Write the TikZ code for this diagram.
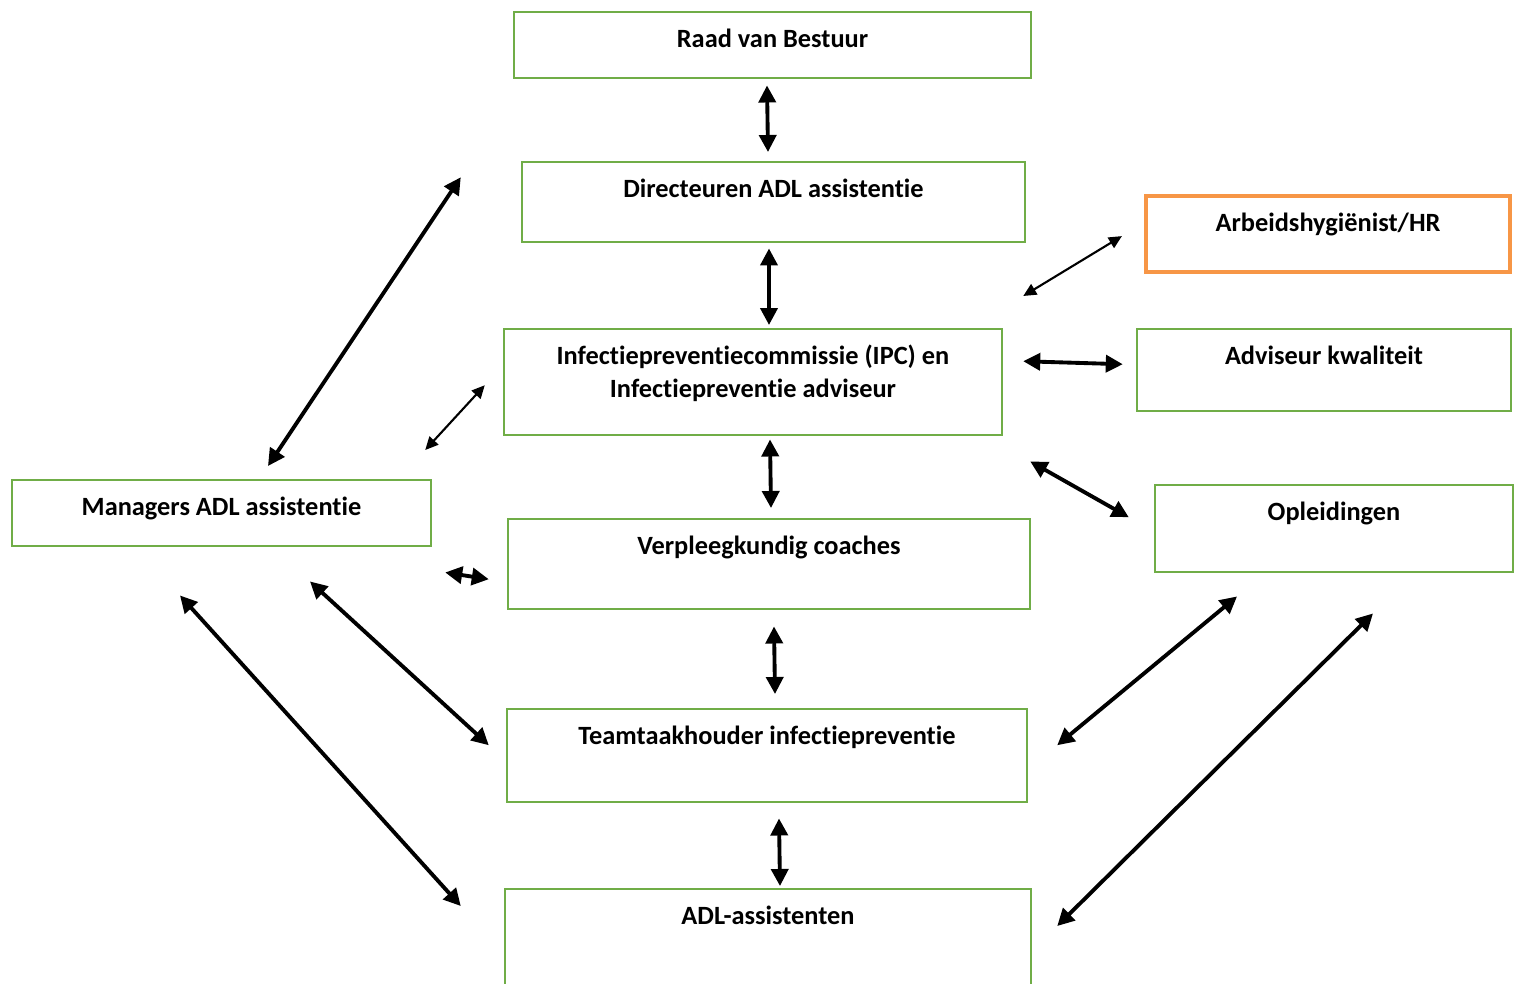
\documentclass[tikz,border=0pt]{standalone}
\usepackage{fontspec}
\setmainfont{Carlito}[Ligatures={NoCommon,NoRequired},Contextuals=NoAlternate]
\usepackage{tikz}
\usetikzlibrary{arrows.meta}
\definecolor{boxgreen}{RGB}{112,173,71}
\definecolor{boxorange}{RGB}{247,150,70}
\tikzset{
	orgbox/.style={draw=boxgreen, line width=0.7pt, anchor=north, inner xsep=0pt, inner ysep=0pt,
		align=center, text height=0.355cm, font=\bfseries\fontsize{7.5}{9.4}\selectfont},
	hrbox/.style={orgbox, draw=boxorange, line width=1.2pt},
	link/.style={line width=1.1pt, {Triangle[length=0.17cm,width=0.17cm]}-{Triangle[length=0.17cm,width=0.17cm]}},
	thinlink/.style={line width=0.6pt, {Triangle[length=0.13cm,width=0.12cm]}-{Triangle[length=0.13cm,width=0.12cm]}}
}
\begin{document}
\begin{tikzpicture}
				\clip (0,0) rectangle (15.24,9.83);
				
				% Middle column
				\node[orgbox, minimum width=5.17cm, text depth=0.305cm] (raad) at (7.725,9.72) {Raad van Bestuur};
				\node[orgbox, minimum width=5.03cm, text depth=0.445cm] (dir) at (7.735,8.22) {Directeuren ADL assistentie};
				\node[orgbox, minimum width=4.98cm, text height=0.685cm, text depth=0.375cm] (ipc) at (7.53,6.55) {Infectiepreventiecommissie (IPC) en\\Infectiepreventie adviseur};
				\node[orgbox, minimum width=5.22cm, text depth=0.545cm] (ver) at (7.69,4.65) {Verpleegkundig coaches};
				\node[orgbox, minimum width=5.20cm, text depth=0.575cm] (team) at (7.67,2.75) {Teamtaakhouder infectiepreventie};
				\node[orgbox, minimum width=5.26cm, text depth=0.865cm] (adl) at (7.68,0.95) {ADL-assistenten};
				
				% Left column
				\node[orgbox, minimum width=4.19cm, text depth=0.305cm] (man) at (2.215,5.04) {Managers ADL assistentie};
				
				% Right column
				\node[hrbox, minimum width=3.64cm, text depth=0.405cm] (arb) at (13.28,7.89) {Arbeidshygiënist/HR};
				\node[orgbox, minimum width=3.74cm, text depth=0.465cm] (adv) at (13.24,6.55) {Adviseur kwaliteit};
				\node[orgbox, minimum width=3.58cm, text depth=0.515cm] (opl) at (13.34,4.99) {Opleidingen};
				
				% Vertical chain
				\draw[link] ([shift={(-0.055,-0.06)}]raad.south) -- ([shift={(-0.055,0.09)}]dir.north);
				\draw[link] ([shift={(-0.045,-0.05)}]dir.south) -- ([shift={(0.16,0.03)}]ipc.north);
				\draw[link] ([shift={(0.17,-0.03)}]ipc.south) -- ([shift={(0.02,0.10)}]ver.north);
				\draw[link] ([shift={(0.05,-0.16)}]ver.south) -- ([shift={(0.08,0.14)}]team.north);
				\draw[link] ([shift={(0.12,-0.15)}]team.south) -- ([shift={(0.12,0.02)}]adl.north);
				
				% Managers
				\draw[link] ([shift={(0.465,0.13)}]man.north) -- ([shift={(-0.60,0.25)}]dir.west);
				\draw[thinlink] ([shift={(-0.07,0.29)}]man.north east) -- ([shift={(-0.18,-0.03)}]ipc.west);
				\draw[link] ([shift={(0.13,-0.25)}]man.south east) -- ([shift={(-0.18,-0.15)}]ver.west);
				\draw[link] ([shift={(0.885,-0.34)}]man.south) -- ([shift={(-0.17,0.105)}]team.west);
				\draw[link] ([shift={(-0.415,-0.48)}]man.south) -- ([shift={(-0.43,-0.18)}]adl.north west);
				
				% Right side
				\draw[thinlink] ([shift={(0.20,0.32)}]ipc.north east) -- ([shift={(-0.22,-0.02)}]arb.west);
				\draw[link] ([shift={(0.20,0.21)}]ipc.east) -- ([shift={(-0.13,0.06)}]adv.west);
				\draw[link] ([shift={(0.27,-0.25)}]ipc.south east) -- ([shift={(-0.25,0.115)}]opl.west);
				\draw[link] ([shift={(-0.97,-0.23)}]opl.south) -- ([shift={(0.29,0.105)}]team.east);
				\draw[link] ([shift={(0.39,-0.40)}]opl.south) -- ([shift={(0.25,-0.38)}]adl.north east);
			\end{tikzpicture}
\end{document}
